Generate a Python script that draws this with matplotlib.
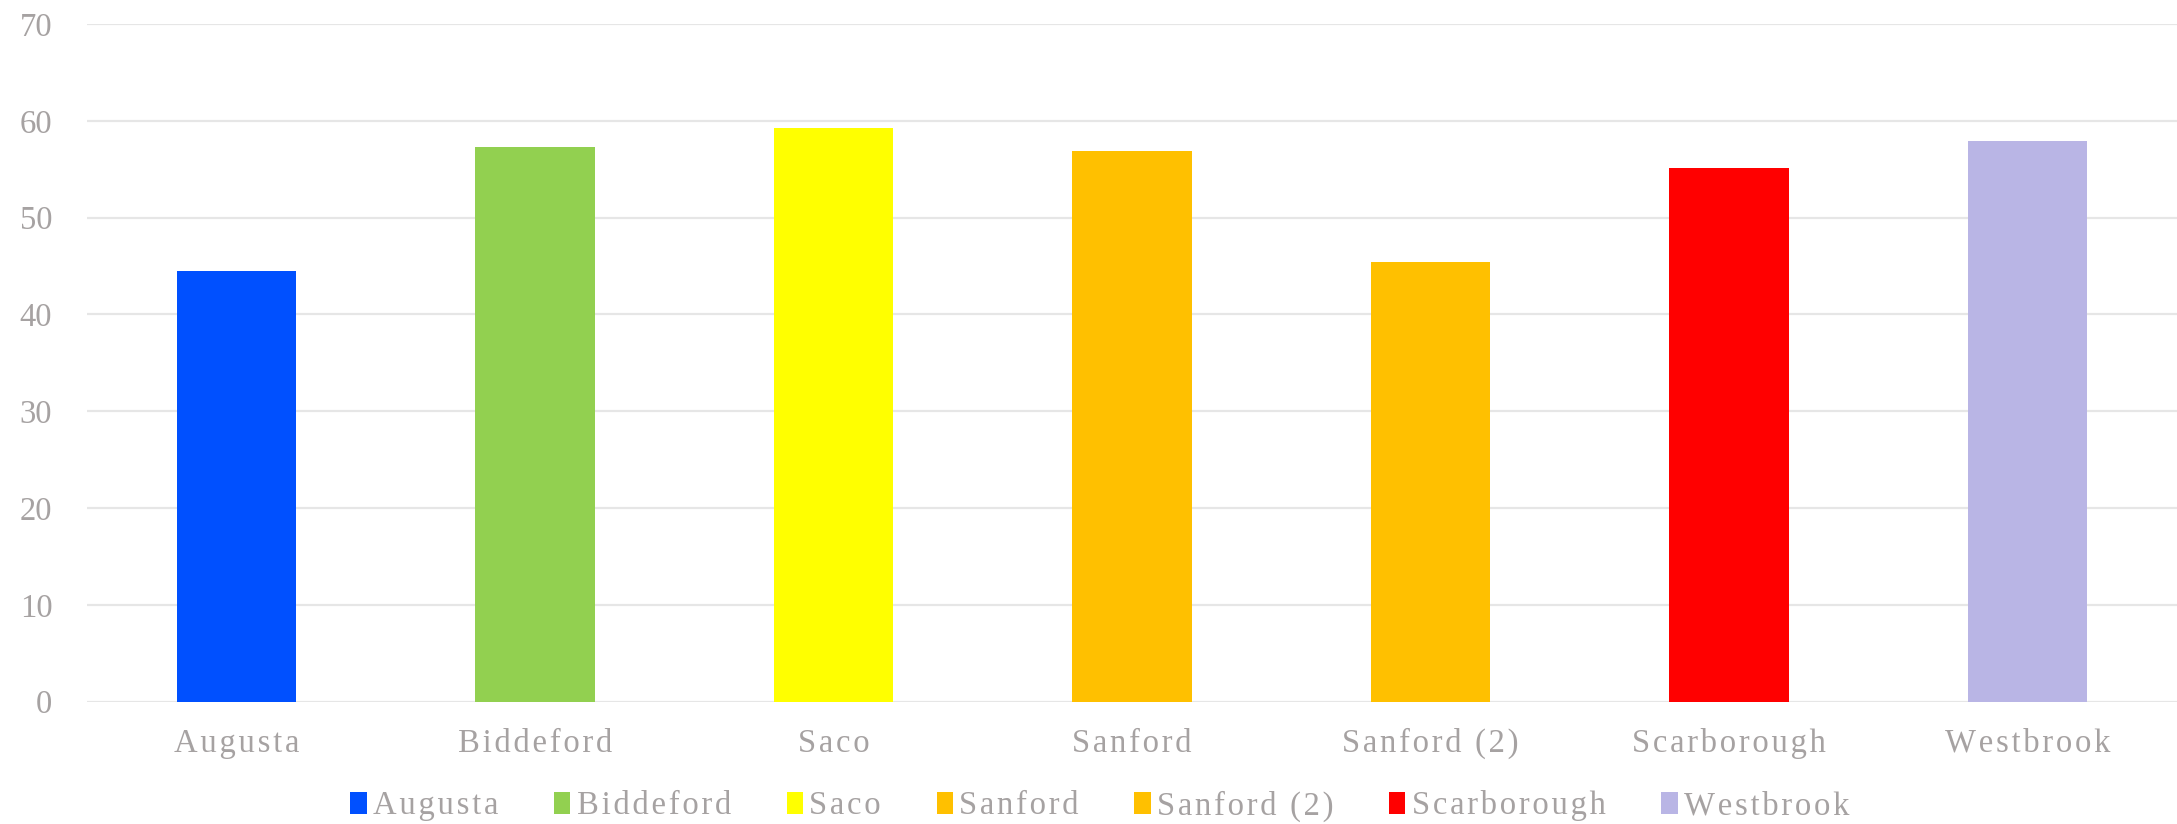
import matplotlib
matplotlib.use("Agg")
import matplotlib.pyplot as plt
from matplotlib.patches import Patch

# city values
cities = ["Augusta", "Biddeford", "Saco", "Sanford", "Sanford (2)", "Scarborough", "Westbrook"]
values = [44.5, 57.3, 59.3, 56.9, 45.4, 55.1, 57.9]
colors = ["#0050ff", "#92d050", "#ffff00", "#ffc000", "#ffc000", "#ff0000", "#b9b5e5"]

plt.rcParams['font.family'] = ['Liberation Serif', 'DejaVu Serif']
text_col = "#a6a2a2"


def spaced(s):
    # loose letter spacing with hair spaces
    return "\u200a".join(s)


fig = plt.figure(figsize=(21.77, 8.24), dpi=100)
ax = fig.add_axes([87 / 2177, 1 - 701.7 / 824, (2177 - 87) / 2177, (701.7 - 24) / 824])

x = range(len(cities))
ax.bar(x, values, width=0.40, color=colors, zorder=3)

ax.set_ylim(0, 70)
ax.set_yticks(range(0, 71, 10))
ax.set_xlim(-0.5, len(cities) - 0.5)
ax.set_xticks(list(x))
ax.set_xticklabels([spaced(c) for c in cities])
ax.grid(axis="y", color="#e6e6e6", linewidth=1.6, zorder=0)
for s in ax.spines.values():
    s.set_visible(False)
ax.tick_params(axis="both", length=0, colors=text_col, labelsize=23.5)
ax.tick_params(axis="y", pad=25)
ax.tick_params(axis="x", pad=19)

handles = [Patch(facecolor=c, edgecolor="none") for c in colors]
leg = fig.legend(handles, [spaced(c) for c in cities], loc="center",
                 bbox_to_anchor=(1100 / 2177, 1 - 806 / 824),
                 ncol=7, frameon=False, fontsize=23.5, handlelength=0.5, handleheight=0.7,
                 handletextpad=0.2, columnspacing=1.7, labelcolor=text_col)

fig.savefig("out.png", dpi=100)
